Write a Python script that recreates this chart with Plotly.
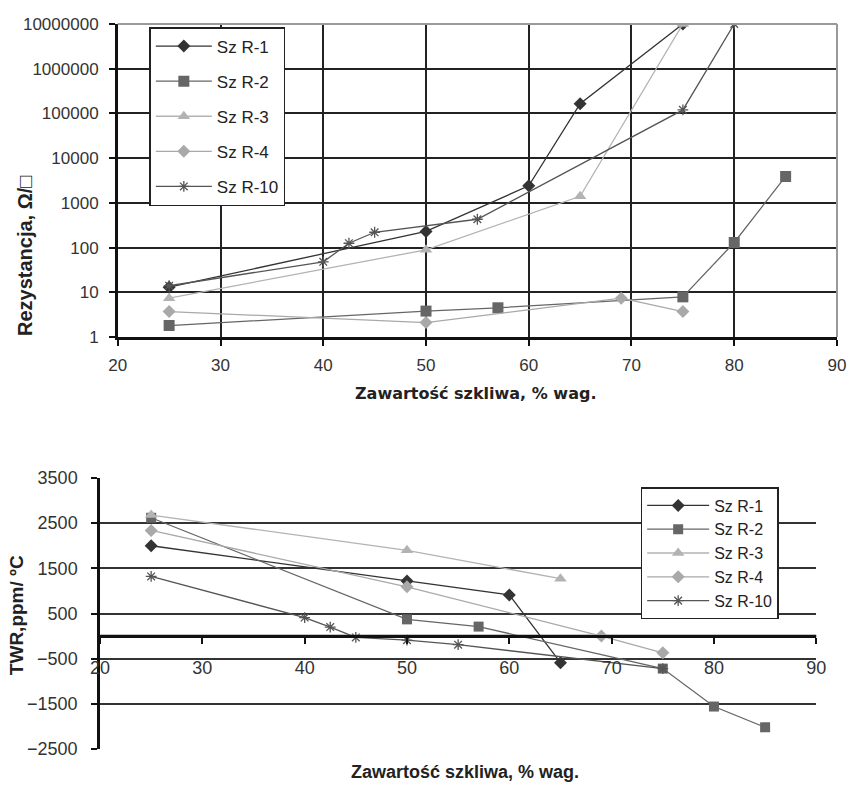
import plotly.graph_objects as go

# ---------------- data ----------------
series_names = ["Sz R-1", "Sz R-2", "Sz R-3", "Sz R-4", "Sz R-10"]

# Resistance (Ohm/sq) vs glass content (% wt)
res_x_r1 = [25, 50, 60, 65, 75]
res_y_r1 = [13, 230, 2400, 165000, 10000000]
res_x_r2 = [25, 50, 57, 75, 80, 85]
res_y_r2 = [1.8, 3.8, 4.5, 7.9, 130, 3900]
res_x_r3 = [25, 50, 65, 75]
res_y_r3 = [7.4, 89, 1400, 10000000]
res_x_r4 = [25, 50, 69, 75]
res_y_r4 = [3.7, 2.1, 7.4, 3.7]
res_x_r10 = [25, 40, 42.5, 45, 55, 75, 80]
res_y_r10 = [14, 48, 125, 220, 430, 120000, 10000000]

# TWR (ppm/degC) vs glass content (% wt)
twr_x_r1 = [25, 50, 60, 65]
twr_y_r1 = [2000, 1220, 910, -590]
twr_x_r2 = [25, 50, 57, 75, 80, 85]
twr_y_r2 = [2620, 370, 210, -720, -1560, -2020]
twr_x_r3 = [25, 50, 65]
twr_y_r3 = [2680, 1900, 1270]
twr_x_r4 = [25, 50, 69, 75]
twr_y_r4 = [2340, 1090, 0, -370]
twr_x_r10 = [25, 40, 42.5, 45, 50, 55, 75]
twr_y_r10 = [1320, 410, 200, -30, -90, -190, -720]

res_tickvals = [1, 10, 100, 1000, 10000, 100000, 1000000, 10000000]
res_ticktext = ["1", "10", "100", "1000", "10000", "100000", "1000000", "10000000"]
twr_tickvals = [-2500, -1500, -500, 500, 1500, 2500, 3500]
x_tickvals = [20, 30, 40, 50, 60, 70, 80, 90]

x_title = "Zawartość szkliwa, % wag."
res_title = "Rezystancja, Ω/□"
twr_title = "TWR,ppm/ ºC"

# ---------------- styles ----------------
colors = ["#333333", "#666666", "#b3b3b3", "#a9a9a9", "#555555"]
symbols = ["diamond", "square", "triangle-up", "diamond", "asterisk-open"]
sizes_top = [10, 11, 11, 10, 9]
sizes_bot = [10, 10, 11, 10, 9]
FONT = "Liberation Sans, Arial, sans-serif"
WIDE = "DejaVu Sans, Verdana, sans-serif"

W, H = 859, 785
ML, MR, MT, MB = 100, 12, 24, 36
PW, PH = W - ML - MR, H - MT - MB


def fx(px):
    return (px - ML) / PW


def fy(py):
    return (H - MB - py) / PH


fig = go.Figure()

res_data = [(res_x_r1, res_y_r1), (res_x_r2, res_y_r2), (res_x_r3, res_y_r3),
            (res_x_r4, res_y_r4), (res_x_r10, res_y_r10)]
twr_data = [(twr_x_r1, twr_y_r1), (twr_x_r2, twr_y_r2), (twr_x_r3, twr_y_r3),
            (twr_x_r4, twr_y_r4), (twr_x_r10, twr_y_r10)]

for i, (xs, ys) in enumerate(res_data):
    fig.add_trace(go.Scatter(
        x=xs, y=ys, mode="lines+markers", name=series_names[i],
        xaxis="x", yaxis="y", legend="legend", legendgroup="a%d" % i,
        line=dict(color=colors[i], width=1.3),
        marker=dict(symbol=symbols[i], size=sizes_top[i], color=colors[i],
                    line=dict(color=colors[i], width=1.3 if i == 4 else 0)),
    ))

for i, (xs, ys) in enumerate(twr_data):
    fig.add_trace(go.Scatter(
        x=xs, y=ys, mode="lines+markers", name=series_names[i],
        xaxis="x2", yaxis="y2", legend="legend2", legendgroup="b%d" % i,
        line=dict(color=colors[i], width=1.3),
        marker=dict(symbol=symbols[i], size=sizes_bot[i], color=colors[i],
                    line=dict(color=colors[i], width=1.3 if i == 4 else 0)),
    ))

top_dom = [fy(337), fy(24)]
bot_dom = [fy(749), fy(478)]
ymin, ymax = -2500, 3500
zero_pos = bot_dom[0] + (bot_dom[1] - bot_dom[0]) * (0 - ymin) / (ymax - ymin)

fig.update_layout(
    width=W, height=H,
    margin=dict(l=ML, r=MR, t=MT, b=MB),
    paper_bgcolor="white", plot_bgcolor="white",
    font=dict(family=FONT, color="#222222"),
    xaxis=dict(domain=[fx(118), 1], range=[20, 90], tickvals=x_tickvals,
               anchor="y", showgrid=True, gridcolor="#222222", gridwidth=1.8,
               showline=True, linecolor="#111111", linewidth=2.5,
               mirror=False, ticks="outside", ticklen=6, tickwidth=2,
               tickcolor="#111111", zeroline=False,
               tickfont=dict(size=17, color="#333333"), ticklabelstandoff=5),
    yaxis=dict(domain=top_dom, type="log", range=[0, 7], tickvals=res_tickvals,
               ticktext=res_ticktext, anchor="x", showgrid=True,
               gridcolor="#222222", gridwidth=1.8, showline=True,
               linecolor="#111111", linewidth=2.5, ticks="outside", ticklen=6,
               tickwidth=2, tickcolor="#111111",
               tickfont=dict(size=17, color="#333333"), ticklabelstandoff=7),
    xaxis2=dict(domain=[0, fx(826)], range=[20, 90], tickvals=x_tickvals,
                anchor="free", position=zero_pos, showgrid=False,
                showline=True, linecolor="#111111", linewidth=2.5,
                ticks="outside", ticklen=6, tickwidth=2, tickcolor="#111111",
                zeroline=False, tickfont=dict(size=18, color="#333333"),
                ticklabelstandoff=9),
    yaxis2=dict(domain=bot_dom, range=[ymin, ymax], tickvals=twr_tickvals,
                anchor="x2", showgrid=True, gridcolor="#333333", gridwidth=1.6,
                showline=True, linecolor="#111111", linewidth=2.5,
                ticks="outside", ticklen=6, tickwidth=2, tickcolor="#111111",
                zeroline=False, tickfont=dict(size=18, color="#333333"),
                ticklabelstandoff=10),
    legend=dict(x=fx(150), y=fy(27), xanchor="left", yanchor="top",
                bgcolor="white", bordercolor="#222222", borderwidth=1.5,
                font=dict(size=17, color="#222222", family=FONT),
                traceorder="grouped", tracegroupgap=10, itemwidth=56),
    legend2=dict(x=fx(648), y=fy(487), xanchor="left", yanchor="top",
                 bgcolor="white", bordercolor="#222222", borderwidth=1.5,
                 font=dict(size=16, color="#222222", family=FONT),
                 traceorder="grouped", tracegroupgap=0, itemwidth=62),
    showlegend=True,
)

# frame of the top plot (top and right borders are grey)
fig.add_shape(type="line", xref="x domain", yref="y domain", x0=0, x1=1, y0=1, y1=1,
              line=dict(color="#9a9a9a", width=2))
fig.add_shape(type="line", xref="x domain", yref="y domain", x0=1, x1=1, y0=0, y1=1,
              line=dict(color="#9a9a9a", width=2))
# zero line of the bottom plot
fig.add_shape(type="line", xref="x2 domain", yref="y2", x0=0, x1=1, y0=0, y1=0,
              line=dict(color="#111111", width=2.5), layer="below")

annots = [
    dict(text="<b>%s</b>" % x_title, x=fx(481), y=fy(393), size=16, family=WIDE, angle=0),
    dict(text="<b>%s</b>" % x_title, x=fx(470), y=fy(772), size=18, family=FONT, angle=0),
    dict(text="<b>%s</b>" % res_title, x=fx(24), y=fy(256), size=20, family=FONT, angle=-90),
    dict(text="<b>%s</b>" % twr_title, x=fx(15), y=fy(615), size=19, family=FONT, angle=-90),
]
for a in annots:
    fig.add_annotation(xref="paper", yref="paper", showarrow=False,
                       xanchor="center", yanchor="middle",
                       font=dict(family=a["family"], color="#222222", size=a["size"]),
                       text=a["text"], x=a["x"], y=a["y"], textangle=a["angle"])

fig.write_html("out.html")
